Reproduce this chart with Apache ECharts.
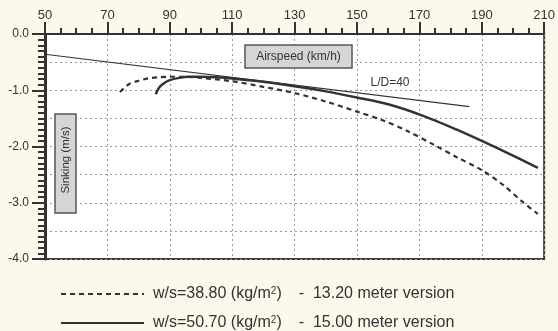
<!DOCTYPE html>
<html>
<head>
<meta charset="utf-8">
<script src="https://cdn.jsdelivr.net/npm/echarts@6/dist/echarts.min.js"></script>
<style>
  html, body { margin: 0; padding: 0; background: #fdf8ec; }
  #chart { width: 558px; height: 331px; }
</style>
</head>
<body>
<div id="chart"></div>
<script>
// 13.20 m version, w/s = 38.80
var speedLight = [74, 77, 80, 83, 86, 90, 95, 100, 110, 120, 130, 140, 150, 158, 166, 175, 182, 190, 197, 203, 208];
var sinkLight = [-1.03, -0.89, -0.83, -0.79, -0.77, -0.76, -0.76, -0.78, -0.84, -0.94, -1.05, -1.2, -1.38, -1.53, -1.72, -1.98, -2.19, -2.42, -2.69, -2.98, -3.2];
// 15.00 m version, w/s = 50.70
var speedHeavy = [85.5, 86.5, 88, 90, 93, 96, 100, 105, 110, 120, 130, 140, 150, 160, 171, 182, 190, 198, 208];
var sinkHeavy = [-1.07, -0.96, -0.88, -0.82, -0.78, -0.76, -0.76, -0.77, -0.79, -0.85, -0.93, -1.02, -1.13, -1.25, -1.45, -1.7, -1.9, -2.11, -2.38];
// L/D = 40 reference line
var speedLD = [50, 186];
var sinkLD = [-0.36, -1.29];

function zip(xs, ys) {
    var out = [];
    for (var i = 0; i < xs.length; i++) {
        out.push([xs[i], ys[i]]);
    }
    return out;
}

var FONT = 'Liberation Sans, Arial, sans-serif';
var INK = '#333';

var legendRich = {
    p: { padding: [0, 0, 0, 4], fontSize: 16 },
    q: { fontSize: 16 },
    s: { fontSize: 10, verticalAlign: 'top' },
    g: { width: 17 }
};

function legendFor(name, top, tail) {
    return {
        data: [name],
        left: 55,
        top: top,
        orient: 'vertical',
        itemWidth: 83,
        itemHeight: 14,
        selectedMode: false,
        itemStyle: { opacity: 0 },
        textStyle: { fontSize: 16, color: INK, fontFamily: FONT, rich: legendRich },
        formatter: function (n) {
            return '{p|' + n + ' (kg/m}{s|2}{q|)}{g| }-  ' + tail;
        }
    };
}

var option = {
    animation: false,
    backgroundColor: '#fdf8ec',
    textStyle: { fontFamily: FONT },
    grid: {
        left: 45,
        right: 9,
        top: 34,
        bottom: 72,
        show: true,
        backgroundColor: '#fff',
        borderColor: '#3a3a3a',
        borderWidth: 2
    },
    legend: [
        legendFor('w/s=38.80', 281, '13.20 meter version'),
        legendFor('w/s=50.70', 310, '15.00 meter version')
    ],
    xAxis: {
        type: 'value',
        position: 'top',
        min: 50,
        max: 210,
        interval: 20,
        axisLine: { lineStyle: { color: INK, width: 2 } },
        axisTick: { length: 12, lineStyle: { color: INK, width: 2 } },
        minorTick: { show: true, splitNumber: 4, length: 6, lineStyle: { color: INK, width: 2 } },
        axisLabel: { color: INK, fontSize: 13, margin: 12 },
        splitLine: { show: true, lineStyle: { color: '#9a9a9a', type: [2, 3], width: 1 } }
    },
    yAxis: [{
        type: 'value',
        min: -4,
        max: 0,
        interval: 1,
        axisLine: { show: true, lineStyle: { color: INK, width: 3 } },
        axisTick: { length: 13, lineStyle: { color: INK, width: 2 } },
        minorTick: { show: true, splitNumber: 10, length: 7, lineStyle: { color: INK, width: 2 } },
        axisLabel: {
            color: INK,
            fontSize: 12,
            margin: 16,
            formatter: function (v) { return v.toFixed(1); }
        },
        splitLine: { show: false }
    }, {
        type: 'value',
        min: -4,
        max: 0,
        interval: 0.5,
        axisLine: { show: false },
        axisTick: { show: false },
        axisLabel: { show: false },
        splitLine: { show: true, lineStyle: { color: '#9a9a9a', type: [2, 3], width: 1 } }
    }],
    graphic: [{
        type: 'rect',
        shape: { x: 245, y: 45, width: 107, height: 23 },
        style: { fill: '#d5d5d5', stroke: '#555', lineWidth: 1.5 },
        z: 10
    }, {
        type: 'text',
        x: 298.5,
        y: 56.5,
        style: {
            text: 'Airspeed (km/h)', fill: INK, font: '12px ' + FONT,
            textAlign: 'center', textVerticalAlign: 'middle'
        },
        z: 11
    }, {
        type: 'rect',
        shape: { x: 55, y: 114, width: 21, height: 99 },
        style: { fill: '#d5d5d5', stroke: '#555', lineWidth: 1.5 },
        z: 10
    }, {
        type: 'text',
        x: 65.5,
        y: 160,
        rotation: Math.PI / 2,
        style: {
            text: 'Sinking (m/s)', fill: INK, font: '11.5px ' + FONT,
            textAlign: 'center', textVerticalAlign: 'middle'
        },
        z: 11
    }, {
        type: 'text',
        x: 390,
        y: 83,
        style: {
            text: 'L/D=40', fill: INK, font: '12px ' + FONT,
            textAlign: 'center', textVerticalAlign: 'middle'
        },
        z: 11
    }],
    series: [{
        name: 'w/s=38.80',
        type: 'line',
        smooth: 0.3,
        symbol: 'none',
        lineStyle: { color: INK, width: 2.2, type: [5, 4] },
        itemStyle: { color: INK },
        data: zip(speedLight, sinkLight)
    }, {
        name: 'w/s=50.70',
        type: 'line',
        smooth: 0.3,
        symbol: 'none',
        lineStyle: { color: INK, width: 2.5 },
        itemStyle: { color: INK },
        data: zip(speedHeavy, sinkHeavy)
    }, {
        name: 'L/D=40',
        type: 'line',
        symbol: 'none',
        lineStyle: { color: INK, width: 1.2 },
        data: zip(speedLD, sinkLD)
    }]
};

var myChart = echarts.init(document.getElementById('chart'));
myChart.setOption(option);
</script>
</body>
</html>
